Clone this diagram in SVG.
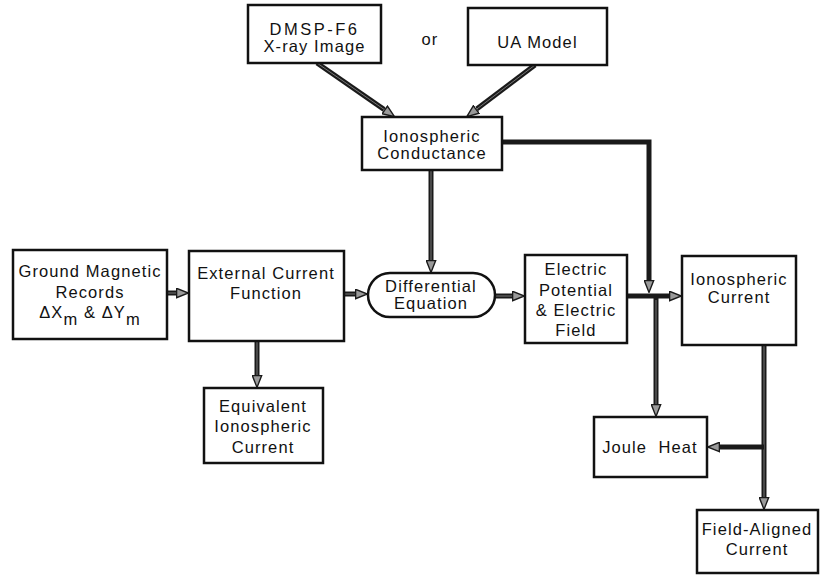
<svg xmlns="http://www.w3.org/2000/svg" width="823" height="577" viewBox="0 0 823 577">
<defs>
<style>
.box{fill:#fff;stroke:#111;stroke-width:2.5}
text{font-family:"Liberation Sans",Arial,sans-serif;font-size:16.5px;fill:#111;text-anchor:middle;letter-spacing:1.1px}
.sh{fill:none;stroke:#1a1a1a;stroke-width:5;stroke-linejoin:miter}
.in{fill:none;stroke:#777;stroke-width:1}
</style>
<marker id="ah" viewBox="0 0 13 11" refX="0" refY="5.5" markerWidth="13" markerHeight="11" orient="auto" markerUnits="userSpaceOnUse">
<path d="M0.6,0.8 L12.4,5.5 L0.6,10.2 z" fill="#9a9a9a" stroke="#1a1a1a" stroke-width="1.4" stroke-linejoin="miter"/>
</marker>
</defs>
<rect width="823" height="577" fill="#fff"/>
<g id="connectors">
<path class="sh" d="M317,63 L384.3,109.6" marker-end="url(#ah)"/>
<path class="in" d="M317,63 L384.3,109.6"/>
<path class="sh" d="M535,65 L476.7,109.1" marker-end="url(#ah)"/>
<path class="in" d="M535,65 L476.7,109.1"/>
<path class="sh" d="M431,170 L431,260" marker-end="url(#ah)"/>
<path class="in" d="M431,170 L431,260"/>
<path class="sh" d="M502,142 L649,142 L649,280" marker-end="url(#ah)"/>
<path class="sh" d="M167,293 L176,293" marker-end="url(#ah)"/>
<path class="in" d="M167,293 L176,293"/>
<path class="sh" d="M344,294 L355,294" marker-end="url(#ah)"/>
<path class="in" d="M344,294 L355,294"/>
<path class="sh" d="M495,296 L512,296" marker-end="url(#ah)"/>
<path class="in" d="M495,296 L512,296"/>
<path class="sh" d="M627,296 L669,296" marker-end="url(#ah)"/>
<path class="sh" d="M656,296 L656,404" marker-end="url(#ah)"/>
<path class="in" d="M656,300 L656,404"/>
<path class="sh" d="M257,341 L257,375" marker-end="url(#ah)"/>
<path class="in" d="M257,341 L257,375"/>
<path class="sh" d="M764,345 L764,497" marker-end="url(#ah)"/>
<path class="in" d="M764,345 L764,497"/>
<path class="sh" d="M764,447 L720,447" marker-end="url(#ah)"/>
</g>
<g id="dmsp"><rect class="box" x="248" y="5" width="133" height="58"/><text x="314.5" y="35" style="letter-spacing:2.5px">DMSP-F6</text><text x="314.5" y="52">X-ray Image</text></g>
<g id="or"><text x="430" y="45">or</text></g>
<g id="ua"><rect class="box" x="468" y="8" width="139" height="57"/><text x="537.5" y="48">UA Model</text></g>
<g id="conductance"><rect class="box" x="362" y="117" width="140" height="53"/><text x="432" y="142">Ionospheric</text><text x="432" y="159">Conductance</text></g>
<g id="ground"><rect class="box" x="13" y="250" width="154" height="89"/><text x="90" y="277">Ground Magnetic</text><text x="90" y="298">Records</text><text x="90" y="318">ΔX<tspan dy="7">m</tspan><tspan dy="-7"> &amp; ΔY</tspan><tspan dy="7">m</tspan></text></g>
<g id="external"><rect class="box" x="189" y="251" width="155" height="90"/><text x="266" y="279">External Current</text><text x="266" y="299">Function</text></g>
<g id="differential"><rect class="box" x="368" y="273" width="127" height="44" rx="22" ry="22"/><text x="431" y="292">Differential</text><text x="431" y="309">Equation</text></g>
<g id="electric"><rect class="box" x="525" y="255" width="102" height="88"/><text x="576" y="275">Electric</text><text x="576" y="296">Potential</text><text x="576" y="316">&amp; Electric</text><text x="576" y="336">Field</text></g>
<g id="ionocurrent"><rect class="box" x="682" y="256" width="114" height="89"/><text x="739" y="285">Ionospheric</text><text x="739" y="303">Current</text></g>
<g id="equivalent"><rect class="box" x="204" y="388" width="119" height="75"/><text x="263" y="412">Equivalent</text><text x="263" y="432">Ionospheric</text><text x="263" y="453">Current</text></g>
<g id="joule"><rect class="box" x="594" y="417" width="113" height="60"/><text x="650" y="453" xml:space="preserve">Joule  Heat</text></g>
<g id="fieldaligned"><rect class="box" x="697" y="510" width="121" height="63"/><text x="757" y="535">Field-Aligned</text><text x="757" y="555">Current</text></g>
</svg>
